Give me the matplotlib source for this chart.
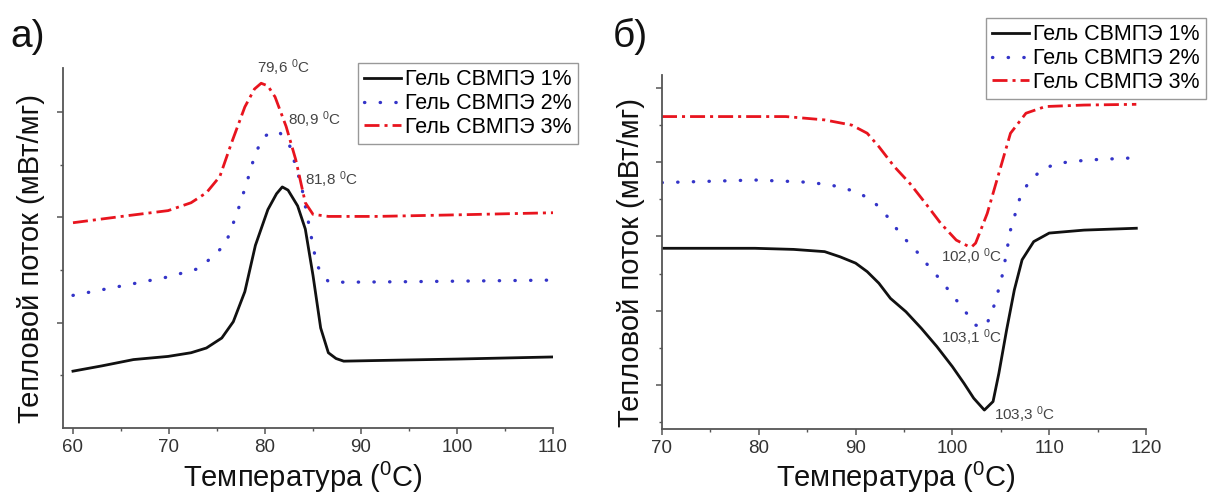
import matplotlib
matplotlib.use("Agg")
import matplotlib.pyplot as plt
from matplotlib.ticker import FixedLocator, NullFormatter

plt.rcParams['font.family'] = ['Liberation Sans', 'DejaVu Sans']
plt.rcParams['mathtext.default'] = 'regular'

# ---------------- data: panel a) (crystallisation) ----------------
x1a = [60, 63, 66.3, 69.9, 72.3, 73.9, 75.5, 76.7, 77.9, 79.0, 80.3, 81.2, 81.8, 82.4,
       83.4, 84.2, 85.0, 85.8, 86.6, 87.4, 88.2, 91, 100, 110]
y1a = [1.08, 1.18, 1.3, 1.36, 1.43, 1.52, 1.71, 2.02, 2.59, 3.47, 4.15, 4.45, 4.58, 4.52,
       4.22, 3.78, 2.9, 1.9, 1.43, 1.32, 1.27, 1.28, 1.31, 1.35]
x2a = [60, 65.1, 69.9, 73.1, 74.7, 75.9, 77.1, 78.1, 79.0, 79.9, 81.0, 81.6, 82.6, 83.8,
       84.6, 85.4, 86.6, 88.2, 95, 110]
y2a = [2.52, 2.7, 2.87, 3.03, 3.28, 3.5, 4.09, 4.66, 5.22, 5.54, 5.64, 5.6, 5.35, 4.6,
       3.84, 3.09, 2.78, 2.77, 2.78, 2.81]
x3a = [60, 65.5, 69.9, 72.3, 73.9, 75.3, 76.5, 77.9, 78.9, 79.6, 80.3, 81.05, 82.2, 83.2,
       84.2, 85.0, 86.6, 91.6, 100, 110]
y3a = [3.9, 4.03, 4.13, 4.28, 4.47, 4.78, 5.41, 6.1, 6.44, 6.55, 6.5, 6.29, 5.73, 5.1,
       4.28, 4.06, 4.02, 4.02, 4.05, 4.09]

# ---------------- data: panel б) (melting) ----------------
x1b = [70, 79.6, 83.6, 86.8, 88.4, 90.0, 91.2, 92.4, 93.6, 95.2, 96.8, 98.4, 100.0, 101.2,
       102.2, 103.3, 104.2, 104.8, 105.6, 106.4, 107.2, 108.4, 110.0, 113.6, 119]
y1b = [5.68, 5.68, 5.65, 5.59, 5.45, 5.28, 5.05, 4.74, 4.33, 3.97, 3.52, 3.03, 2.49, 2.04,
       1.64, 1.32, 1.55, 2.31, 3.48, 4.56, 5.37, 5.86, 6.09, 6.17, 6.22]
x2b = [70, 79.6, 84.4, 87.2, 88.8, 90.4, 92.0, 93.4, 94.7, 96.2, 97.6, 98.8, 100.0, 101.2,
       102.4, 103.1, 103.6, 104.4, 105.2, 106.0, 107.0, 107.9, 109.2, 110.8, 114, 119]
y2b = [7.45, 7.52, 7.47, 7.4, 7.3, 7.17, 6.9, 6.5, 6.04, 5.63, 5.18, 4.82, 4.42, 4.02,
       3.61, 3.55, 3.66, 4.2, 5.0, 6.17, 7.06, 7.47, 7.79, 7.97, 8.06, 8.12]
x3b = [70, 82.8, 86.8, 89.6, 91.2, 92.4, 94.0, 95.6, 97.2, 98.8, 100.4, 101.6, 102.0, 102.4,
       103.6, 104.8, 106.0, 107.6, 109.6, 113.6, 119]
y3b = [9.23, 9.23, 9.14, 9.0, 8.78, 8.42, 7.88, 7.43, 6.9, 6.35, 5.9, 5.74, 5.72, 5.82,
       6.62, 7.7, 8.78, 9.32, 9.5, 9.54, 9.56]

labels = ["Гель СВМПЭ 1%", "Гель СВМПЭ 2%", "Гель СВМПЭ 3%"]

ann_a = [("79,6 $^0$C", 81.9, 6.84), ("80,9 $^0$C", 85.1, 5.86), ("81,8 $^0$C", 86.9, 4.71)]
ann_b = [("102,0 $^0$C", 102.0, 5.44), ("103,1 $^0$C", 102.0, 3.26), ("103,3 $^0$C", 107.5, 1.19)]

xticks_a = [60, 70, 80, 90, 100, 110]
xticks_b = [70, 80, 90, 100, 110, 120]

xlabel = "Температура ($^0$C)"
ylabel = "Тепловой поток (мВт/мг)"

# ---------------- styles ----------------
c_black = "#111111"
c_blue = "#3434c8"
c_red = "#e8141e"
spine_c = "#555555"

fig = plt.figure(figsize=(12.08, 4.95), dpi=100)
axA = fig.add_axes([63/1208, 1-428/495, 490/1208, 360/495])
axB = fig.add_axes([662/1208, 1-429/495, 484/1208, 354/495])


def style_axes(ax, xlim, ylim, xt, ymaj, ymin):
    ax.set_xlim(*xlim)
    ax.set_ylim(*ylim)
    for s in ("top", "right"):
        ax.spines[s].set_visible(False)
    for s in ("left", "bottom"):
        ax.spines[s].set_color(spine_c)
        ax.spines[s].set_linewidth(1.3)
    ax.set_xticks(xt)
    ax.xaxis.set_minor_locator(FixedLocator([v + 5 for v in xt[:-1]]))
    ax.yaxis.set_major_locator(FixedLocator(ymaj))
    ax.yaxis.set_minor_locator(FixedLocator(ymin))
    ax.yaxis.set_major_formatter(NullFormatter())
    ax.tick_params(axis="x", which="major", direction="out", length=4, width=1.1,
                   color=spine_c, labelsize=13.5, labelcolor="#333333", pad=4)
    ax.tick_params(axis="x", which="minor", direction="out", length=2.5, width=1.0, color=spine_c)
    ax.tick_params(axis="y", which="major", direction="out", length=4.5, width=1.1, color=spine_c)
    ax.tick_params(axis="y", which="minor", direction="out", length=2.5, width=1.0, color=spine_c)


def draw(ax, xs, ys):
    ax.plot(xs[0], ys[0], color=c_black, lw=2.0, label=labels[0], solid_joinstyle="round")
    ax.plot(xs[1], ys[1], color=c_blue, lw=2.4, linestyle=(0, (0.1, 4.6)),
            dash_capstyle="round", label=labels[1])
    ax.plot(xs[2], ys[2], color=c_red, lw=2.0, linestyle=(0, (5.4, 1.8, 1.1, 1.8)),
            label=labels[2])


draw(axA, [x1a, x2a, x3a], [y1a, y2a, y3a])
draw(axB, [x1b, x2b, x3b], [y1b, y2b, y3b])

style_axes(axA, (58.96, 110), (0, 6.84), xticks_a, [2, 4, 6], [1, 3, 5])
style_axes(axB, (70, 120), (0.81, 10.35), xticks_b, [2, 4, 6, 8, 10], [1, 3, 5, 7, 9])

for ax, anns in ((axA, ann_a), (axB, ann_b)):
    for t, x, y in anns:
        ax.text(x, y, t, fontsize=11, color="#444444", ha="center", va="center", clip_on=False)

# axis labels
for ax, xc, xy, yx, yy in ((axA, 0.49, -0.089, -0.037, 0.47), (axB, 0.483, -0.086, -0.035, 0.47)):
    ax.set_xlabel(xlabel, fontsize=21, color="#111111")
    ax.set_ylabel(ylabel, fontsize=21, color="#111111")
    ax.xaxis.set_label_coords(xc, xy)
    ax.yaxis.set_label_coords(yx, yy)

# legends
legkw = dict(fontsize=15.5, frameon=True, fancybox=False, framealpha=1,
             edgecolor="#999999", borderaxespad=0, handlelength=1.7, handletextpad=0.2,
             labelspacing=0.12, borderpad=0.3)
lgA = axA.legend(loc="upper left", bbox_to_anchor=(358/1208, 1-63/495),
                 bbox_transform=fig.transFigure, **legkw)
lgB = axB.legend(loc="upper right", bbox_to_anchor=(1206/1208, 1-18/495),
                 bbox_transform=fig.transFigure, **legkw)
for lg in (lgA, lgB):
    lg.get_frame().set_linewidth(1.0)

# panel letters
fig.text(10/1208, 1-47/495, "а)", fontsize=28, color="#111111", ha="left", va="baseline")
fig.text(613/1208, 1-47/495, "б)", fontsize=28, color="#111111", ha="left", va="baseline")

fig.savefig("out.png", dpi=100)
